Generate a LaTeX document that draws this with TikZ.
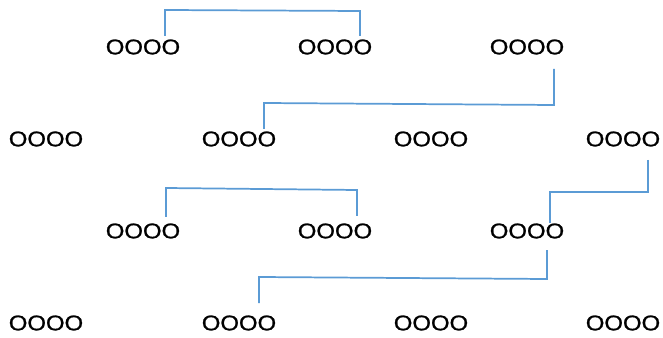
\documentclass[tikz,border=0pt]{standalone}
\usepackage{fontspec}
\setmainfont{Liberation Sans}
\newfontfamily\heapfont[FakeBold=1]{Liberation Sans}
\definecolor{linkblue}{HTML}{5B9BD5}
\tikzset{
	heap/.style={inner sep=0pt, xscale=1.12, font=\heapfont\fontsize{16}{17}\selectfont},
	link/.style={draw=linkblue, line width=1.3pt}
}

\begin{document}
\begin{tikzpicture}[x=0.75pt,y=-0.75pt]
					\useasboundingbox (0,0) rectangle (663,338);
					
					\node[heap] (a1) at (143,47) {OOOO};
					\node[heap] (a2) at (335,47) {OOOO};
					\node[heap] (a3) at (527,47) {OOOO};
					
					\node[heap] (b1) at (46,139) {OOOO};
					\node[heap] (b2) at (239,139) {OOOO};
					\node[heap] (b3) at (431,139) {OOOO};
					\node[heap] (b4) at (623,139) {OOOO};
					
					\node[heap] (c1) at (143,231) {OOOO};
					\node[heap] (c2) at (335,231) {OOOO};
					\node[heap] (c3) at (527,231) {OOOO};
					
					\node[heap] (d1) at (46,323) {OOOO};
					\node[heap] (d2) at (239,323) {OOOO};
					\node[heap] (d3) at (431,323) {OOOO};
					\node[heap] (d4) at (623,323) {OOOO};
					
					% link ends
					\coordinate (A) at (165,36);
					\coordinate (B) at (165,10);
					\coordinate (C) at (360,11);
					\coordinate (D) at (360,36);
					
					\coordinate (E) at (554,69);
					\coordinate (F) at (554,105);
					\coordinate (G) at (264,103);
					\coordinate (H) at (264,129);
					
					\coordinate (I) at (166,217);
					\coordinate (J) at (166,188);
					\coordinate (K) at (357,190);
					\coordinate (L) at (357,216);
					
					\coordinate (M) at (648,160);
					\coordinate (N) at (648,192);
					\coordinate (O) at (550,192);
					\coordinate (P) at (550,223);
					
					\coordinate (Q) at (547,250);
					\coordinate (R) at (547,279);
					\coordinate (S) at (259,277);
					\coordinate (T) at (259,303);
					
					\draw[link] (A) -- (B) -- (C) -- (D);
					\draw[link] (E) -- (F) -- (G) -- (H);
					\draw[link] (I) -- (J) -- (K) -- (L);
					\draw[link] (M) -- (N) -- (O) -- (P);
					\draw[link] (Q) -- (R) -- (S) -- (T);
				\end{tikzpicture}
\end{document}
